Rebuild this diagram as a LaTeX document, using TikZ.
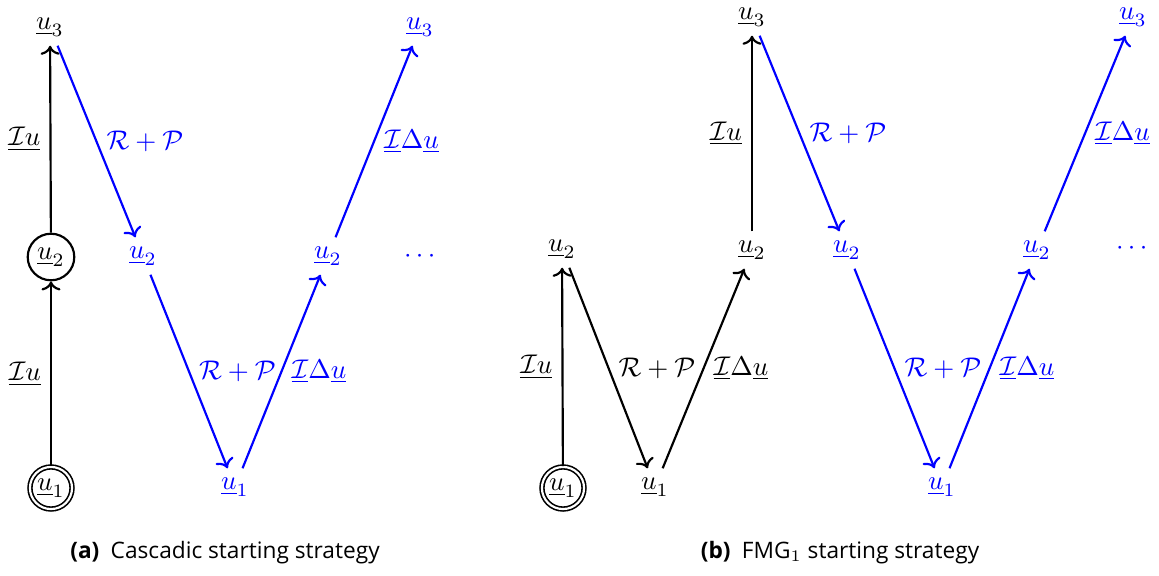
\documentclass[tikz,border=0pt]{standalone}
\usepackage[no-math]{fontspec}
\setmainfont{Open Sans}
\usepackage{amsmath, amssymb}
\usepackage{tikz}
\usetikzlibrary{
  arrows.meta,
  positioning
}

\begin{document}
\begin{tikzpicture}[
  x=0.3704pt, y=-0.3704pt,
  vcyc/.style={text=blue},
  start/.style={draw, circle, thick, inner sep=1.8pt},
  first/.style={draw, circle, double, double distance=0.8pt, semithick, inner sep=1.2pt},
  arrow/.style={->, thick},
  varrow/.style={->, thick, draw=blue},
  vlbl/.style={text=blue},
  subcap/.style={font=\fontsize{8.4}{10}\selectfont}
]
\useasboundingbox (0,0) rectangle (1159,575);

% (a) cascadic
\node[first] (a1) at (51,488) {$\underline{u}_1$};
\node[start] (a2) at (51,257) {$\underline{u}_2$};
\node (a3) at (50,27) {$\underline{u}_3$};
\node[vcyc] (av2) at (143,256) {$\underline{u}_2$};
\node[vcyc] (av1) at (235,487) {$\underline{u}_1$};
\node[vcyc] (av2r) at (328,256) {$\underline{u}_2$};
\node[vcyc] (av3) at (420,27) {$\underline{u}_3$};
\node[vcyc] (adots) at (422,256) {$\cdots$};

\draw[arrow] (a1) -- node[left] {$\underline{\mathcal{I}}\underline{u}$} (a2);
\draw[arrow] (a2) -- node[left] {$\underline{\mathcal{I}}\underline{u}$} (a3);
\draw[varrow] (a3) -- node[right, vlbl] {$\mathcal{R}+\mathcal{P}$} (av2);
\draw[varrow] (av2) -- node[right, vlbl] {$\mathcal{R}+\mathcal{P}$} (av1);
\draw[varrow] (av1) -- node[right, vlbl] {$\underline{\mathcal{I}}\Delta\underline{u}$} (av2r);
\draw[varrow] (av2r) -- node[right, vlbl] {$\underline{\mathcal{I}}\Delta\underline{u}$} (av3);

% (b) FMG_1
\node[first] (b1) at (563,488) {$\underline{u}_1$};
\node (b2) at (562,249) {$\underline{u}_2$};
\node (b1x) at (655,487) {$\underline{u}_1$};
\node (b2x) at (752,250) {$\underline{u}_2$};
\node (b3) at (752,17) {$\underline{u}_3$};
\node[vcyc] (bv2) at (847,250) {$\underline{u}_2$};
\node[vcyc] (bv1) at (942,487) {$\underline{u}_1$};
\node[vcyc] (bv2r) at (1037,250) {$\underline{u}_2$};
\node[vcyc] (bv3) at (1133,17) {$\underline{u}_3$};
\node[vcyc] (bdots) at (1134,248) {$\cdots$};

\draw[arrow] (b1) -- node[left] {$\underline{\mathcal{I}}\underline{u}$} (b2);
\draw[arrow] (b2) -- node[right] {$\mathcal{R}+\mathcal{P}$} (b1x);
\draw[arrow] (b1x) -- node[right] {$\underline{\mathcal{I}}\Delta\underline{u}$} (b2x);
\draw[arrow] (b2x) -- node[left] {$\underline{\mathcal{I}}\underline{u}$} (b3);
\draw[varrow] (b3) -- node[right, vlbl] {$\mathcal{R}+\mathcal{P}$} (bv2);
\draw[varrow] (bv2) -- node[right, vlbl] {$\mathcal{R}+\mathcal{P}$} (bv1);
\draw[varrow] (bv1) -- node[right, vlbl] {$\underline{\mathcal{I}}\Delta\underline{u}$} (bv2r);
\draw[varrow] (bv2r) -- node[right, vlbl] {$\underline{\mathcal{I}}\Delta\underline{u}$} (bv3);

% captions
\node[subcap] (capa) at (225,553) {\textbf{(a)}\enspace Cascadic starting strategy};
\node[subcap] (capb) at (840,553) {\textbf{(b)}\enspace FMG$_1$ starting strategy};
\end{tikzpicture}
\end{document}
